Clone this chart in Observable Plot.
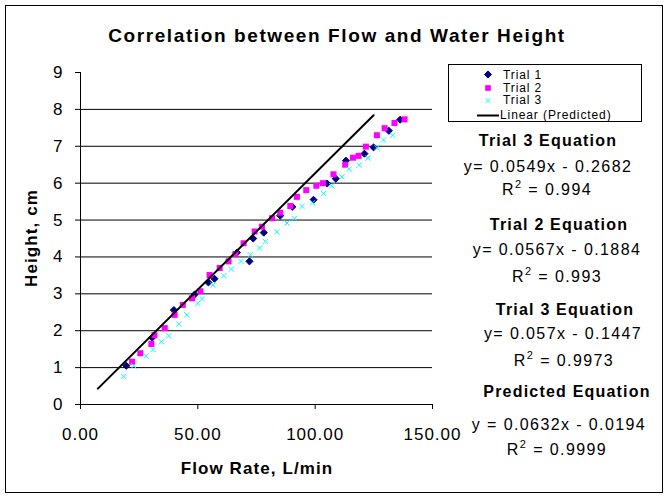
<!DOCTYPE html>
<html>
<head>
<meta charset="utf-8">
<script src="https://cdn.jsdelivr.net/npm/d3@7"></script>
<script src="https://cdn.jsdelivr.net/npm/@observablehq/plot@0.6"></script>
<style>
  html, body { margin: 0; padding: 0; background: white; }
  #wrap { position: relative; width: 671px; height: 498px; overflow: hidden; background: white; }
  #wrap svg { position: absolute; left: 0; top: 0; }
  #wrap svg.plotsvg text { letter-spacing: 1px; }
</style>
</head>
<body>
<div id="wrap"></div>
<script>
// ---- Data ----
const trial1X = [19.5, 30.5, 39.8, 48.6, 54.5, 57.1, 66.7, 72.0, 73.6, 78.1, 85.1, 90.3, 99.3, 105.1, 108.8, 113.1, 121.0, 124.9, 131.4, 136.2];
const trial1Y = [1.05, 1.81, 2.56, 2.98, 3.31, 3.41, 4.12, 3.88, 4.50, 4.66, 5.12, 5.36, 5.55, 5.99, 6.12, 6.61, 6.80, 6.97, 7.42, 7.72];

const trial2X = [22.0, 25.5, 30.2, 31.5, 35.9, 40.1, 43.6, 47.5, 51.1, 55.0, 59.3, 63.1, 66.0, 69.5, 74.2, 77.3, 81.6, 85.1, 89.4, 92.2, 96.2, 100.5, 103.3, 107.8, 112.8, 116.1, 118.5, 121.6, 126.3, 129.6, 133.8, 138.1];
const trial2Y = [1.16, 1.39, 1.64, 1.88, 2.07, 2.43, 2.70, 2.88, 3.07, 3.51, 3.70, 3.88, 4.08, 4.37, 4.69, 4.82, 5.05, 5.20, 5.38, 5.63, 5.81, 5.93, 6.00, 6.24, 6.50, 6.69, 6.74, 6.99, 7.30, 7.49, 7.63, 7.73];

const trial3X = [18.4, 22.7, 27.9, 30.9, 34.5, 37.6, 41.9, 45.3, 50.0, 51.8, 56.5, 61.0, 64.3, 68.4, 72.4, 76.3, 78.8, 83.7, 88.0, 91.1, 94.4, 98.9, 103.6, 107.1, 111.4, 114.5, 118.8, 122.5, 126.3, 129.1, 133.0];
const trial3Y = [0.76, 1.05, 1.32, 1.49, 1.70, 1.86, 2.18, 2.43, 2.74, 2.87, 3.24, 3.49, 3.67, 3.88, 4.06, 4.24, 4.42, 4.68, 4.92, 5.04, 5.37, 5.47, 5.72, 5.93, 6.17, 6.38, 6.49, 6.68, 6.96, 7.17, 7.30];

const predictedX = [7.4, 124.9];
const predictedY = [0.43, 7.84];

const xTicks = [0, 50, 100, 150];
const yTicks = [0, 1, 2, 3, 4, 5, 6, 7, 8, 9];
const gridValues = [1, 2, 3, 4, 5, 6, 7, 8];

const titleText = "Correlation between Flow and Water Height";
const xLabel = "Flow Rate, L/min";
const yLabel = "Height, cm";
const legendLabels = ["Trial 1", "Trial 2", "Trial 3", "Linear (Predicted)"];
const equationHeads = ["Trial 3 Equation", "Trial 2 Equation", "Trial 3 Equation", "Predicted Equation"];
const equationLines = ["y= 0.0549x - 0.2682", "y= 0.0567x - 0.1884", "y= 0.057x - 0.1447", "y = 0.0632x - 0.0194"];
const r2Values = ["0.994", "0.993", "0.9973", "0.9999"];

// ---- Build tables ----
const t1 = trial1X.map((x, i) => ({x, y: trial1Y[i]}));
const t2 = trial2X.map((x, i) => ({x, y: trial2Y[i]}));
const t3 = trial3X.map((x, i) => ({x, y: trial3Y[i]}));
const pred = predictedX.map((x, i) => ({x, y: predictedY[i]}));

const FONT = "Liberation Sans, Arial, sans-serif";

const chart = Plot.plot({
  width: 671,
  height: 498,
  marginLeft: 80,
  marginRight: 239,
  marginTop: 72,
  marginBottom: 94,
  style: {fontFamily: FONT, fontSize: "17px", color: "black", background: "white", overflow: "visible"},
  x: {domain: [0, 150]},
  y: {domain: [0, 9]},
  marks: [
    Plot.ruleY(gridValues, {stroke: "black", strokeWidth: 1}),
    Plot.axisX({ticks: xTicks, tickFormat: d3.format(".2f"), tickSize: 5, tickPadding: 18, label: null, stroke: "black", fill: "black"}),
    Plot.axisY({ticks: yTicks, tickFormat: d3.format("d"), tickSize: 5, tickPadding: 12, label: null, stroke: "black", fill: "black"}),
    Plot.ruleX([0], {stroke: "black", strokeWidth: 1}),
    Plot.ruleY([0], {stroke: "black", strokeWidth: 1}),
    Plot.dot(t1, {x: "x", y: "y", symbol: "diamond2", r: 3.2, fill: "#000080", stroke: "#000080", strokeWidth: 1}),
    Plot.dot(t2, {x: "x", y: "y", symbol: "square", r: 3.4, fill: "#FF00FF", stroke: "none"}),
    Plot.dot(t3, {x: "x", y: "y", symbol: "times", r: 2.5, fill: "none", stroke: "#00FFFF", strokeWidth: 1}),
    Plot.line(pred, {x: "x", y: "y", stroke: "black", strokeWidth: 2})
  ]
});
chart.classList.add("plotsvg");
document.getElementById("wrap").appendChild(chart);

// ---- Overlay: title, axis titles, legend, equations, border ----
const ov = d3.select("#wrap").append("svg")
  .attr("width", 671).attr("height", 498)
  .style("font-family", FONT);

ov.append("rect").attr("x", 5.5).attr("y", 5.5).attr("width", 657).attr("height", 487)
  .attr("fill", "none").attr("stroke", "black").attr("stroke-width", 1);

ov.append("text").attr("x", 337).attr("y", 42).attr("text-anchor", "middle")
  .attr("font-size", 19).attr("font-weight", "bold").style("letter-spacing", "1.6px")
  .text(titleText);

ov.append("text").attr("x", 257).attr("y", 474).attr("text-anchor", "middle")
  .attr("font-size", 17).attr("font-weight", "bold").style("letter-spacing", "1.1px")
  .text(xLabel);

ov.append("text").attr("transform", "translate(37,238) rotate(-90)").attr("text-anchor", "middle")
  .attr("font-size", 17).attr("font-weight", "bold").style("letter-spacing", "1.1px")
  .text(yLabel);

// Legend
const lg = ov.append("g");
lg.append("rect").attr("x", 448.5).attr("y", 64.5).attr("width", 193).attr("height", 57)
  .attr("fill", "white").attr("stroke", "black").attr("stroke-width", 1);
const legBase = [78.5, 91.5, 104, 119];
const symY = [74.5, 88, 100.5];
lg.append("path").attr("transform", `translate(488,${symY[0]})`)
  .attr("d", d3.symbol(d3.symbolDiamond2, 3.2 * 3.2 * Math.PI)()).attr("fill", "#000080").attr("stroke", "#000080");
lg.append("path").attr("transform", `translate(488,${symY[1]})`)
  .attr("d", d3.symbol(d3.symbolSquare, 3.2 * 3.2 * Math.PI)()).attr("fill", "#FF00FF");
lg.append("path").attr("transform", `translate(488,${symY[2]})`)
  .attr("d", d3.symbol(d3.symbolTimes, 2.3 * 2.3 * Math.PI)()).attr("fill", "none").attr("stroke", "#00FFFF");
lg.append("line").attr("x1", 477).attr("x2", 499).attr("y1", 115.5).attr("y2", 115.5)
  .attr("stroke", "black").attr("stroke-width", 2);
legendLabels.forEach((t, i) => {
  lg.append("text").attr("x", i < 3 ? 503 : 500).attr("y", legBase[i])
    .attr("font-size", 12).style("letter-spacing", "0.9px").text(t);
});

// Equations
const headPos = [[548, 146], [559, 230], [565, 315], [567, 397]];
const eqPos = [[548, 172], [557, 255], [563, 339], [559, 430]];
const r2Pos = [[547, 195], [557, 282], [564, 366], [557, 455]];
equationHeads.forEach((t, i) => {
  ov.append("text").attr("x", headPos[i][0]).attr("y", headPos[i][1]).attr("text-anchor", "middle")
    .attr("font-size", 16).attr("font-weight", "bold").style("letter-spacing", "1.2px").text(t);
  ov.append("text").attr("x", eqPos[i][0]).attr("y", eqPos[i][1]).attr("text-anchor", "middle")
    .attr("font-size", 16).style("letter-spacing", "1.4px").text(equationLines[i]);
  const r = ov.append("text").attr("x", r2Pos[i][0]).attr("y", r2Pos[i][1]).attr("text-anchor", "middle")
    .attr("font-size", 16).style("letter-spacing", "1.4px");
  r.append("tspan").text("R");
  r.append("tspan").attr("dy", -7).attr("font-size", 11).text("2");
  r.append("tspan").attr("dy", 7).text(" = " + r2Values[i]);
});
</script>
</body>
</html>
